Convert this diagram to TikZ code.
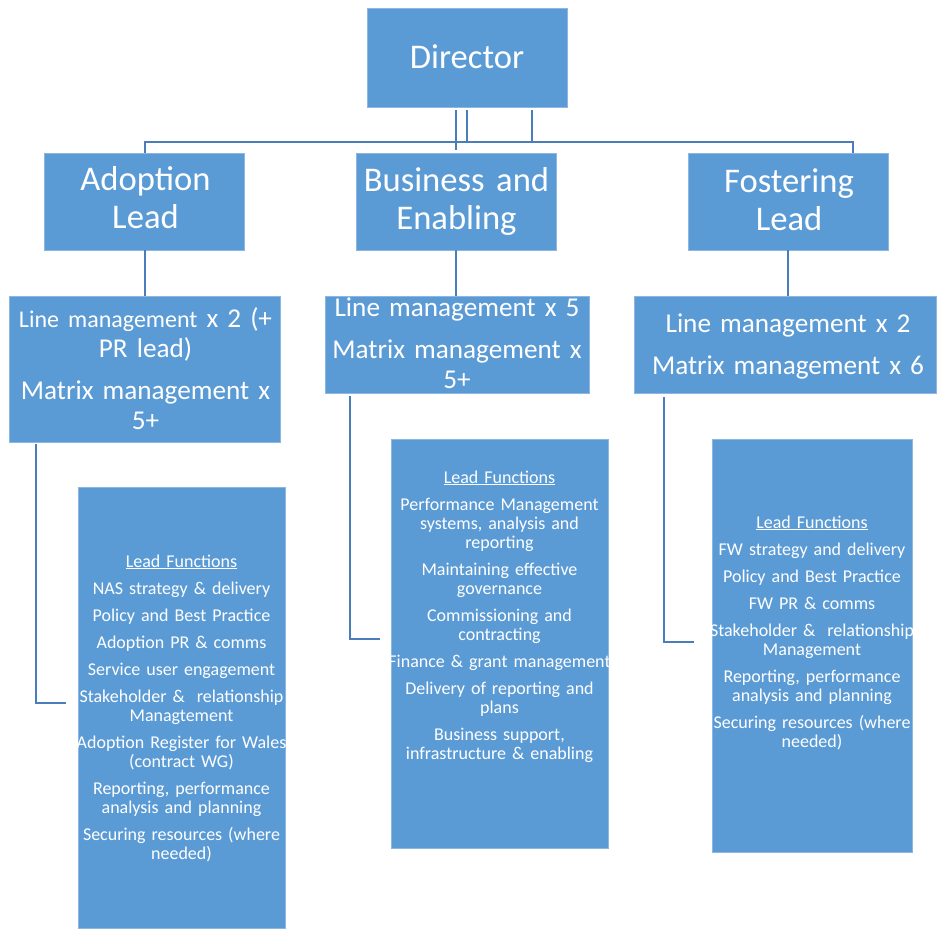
\documentclass[tikz,border=0pt]{standalone}
\usepackage{fontspec}
\setmainfont{Carlito}
\usetikzlibrary{calc}
\definecolor{boxblue}{HTML}{5B9BD5}
\definecolor{boxedge}{HTML}{8DB6E2}
\definecolor{linkblue}{HTML}{4A7EBB}
\begin{document}
\begin{tikzpicture}[x=1pt,y=-1pt,
  box/.style={fill=boxblue, draw=boxedge, line width=0.6pt, inner sep=0pt},
  conn/.style={draw=linkblue, line width=1.6pt},
  txt/.style={text=white, align=center, inner sep=0pt, anchor=base, text width=320pt},
  ttl/.style={txt, font=\fontsize{34.6}{38}\selectfont},
  mgt/.style={txt, font=\fontsize{27.2}{30}\selectfont},
  fun/.style={txt, font=\fontsize{18}{19}\selectfont}]
\useasboundingbox (0,0) rectangle (937,929);
% boxes
\node[box, minimum width=200pt, minimum height=99pt] (dir) at (467,57.5) {};
\node[box, minimum width=200pt, minimum height=97pt] (ad) at (144.5,201.5) {};
\node[box, minimum width=200pt, minimum height=97pt] (be) at (456.5,201.5) {};
\node[box, minimum width=200pt, minimum height=97pt] (fo) at (788,201.5) {};
\node[box, minimum width=271pt, minimum height=146pt] (adm) at (144.5,369) {};
\node[box, minimum width=264pt, minimum height=97pt] (bem) at (457,344.5) {};
\node[box, minimum width=302pt, minimum height=97pt] (fom) at (785,344.5) {};
\node[box, minimum width=207pt, minimum height=441pt] (adf) at (181.5,707.5) {};
\node[box, minimum width=217pt, minimum height=409pt] (bef) at (499.5,643.5) {};
\node[box, minimum width=200pt, minimum height=413pt] (fof) at (812,645.5) {};
% texts
\node[ttl] (dirt) at (467,68) {Director};
\node[ttl] (adt) at (145.5,190) {Adoption\\Lead};
\node[ttl] (bet) at (456.5,191) {Business and\\Enabling};
\node[ttl] (fot) at (789,192) {Fostering\\Lead};
\node[mgt] (admt) at (145.5,327) {{\fontsize{24}{30}\selectfont Line management} x 2 (+\\PR lead)\\[12pt]Matrix management x\\5+};
\node[mgt] (bemt) at (457,316) {Line management x 5\\[12pt]Matrix management x\\5+};
\node[mgt] (fomt) at (788,332) {Line management x 2\\[12pt]Matrix management x 6};
\node[fun] (adft) at (181.5,567) {\underline{Lead Functions}\\[8pt]
NAS strategy \& delivery\\[8pt]
Policy and Best Practice\\[8pt]
Adoption PR \& comms\\[8pt]
Service user engagement\\[8pt]
Stakeholder \&\ \ relationship\\Managtement\\[8pt]
Adoption Register for Wales\\(contract WG)\\[8pt]
Reporting, performance\\analysis and planning\\[8pt]
Securing resources (where\\needed)};
\node[fun] (beft) at (499.5,483) {\underline{Lead Functions}\\[8pt]
Performance Management\\systems, analysis and\\reporting\\[8pt]
Maintaining effective\\governance\\[8pt]
Commissioning and\\contracting\\[8pt]
Finance \& grant management\\[8pt]
Delivery of reporting and\\plans\\[8pt]
Business support,\\infrastructure \& enabling};
\node[fun] (foft) at (812,528) {\underline{Lead Functions}\\[8pt]
FW strategy and delivery\\[8pt]
Policy and Best Practice\\[8pt]
FW PR \& comms\\[8pt]
Stakeholder \&\ \ relationship\\Management\\[8pt]
Reporting, performance\\analysis and planning\\[8pt]
Securing resources (where\\needed)};
% connectors
\coordinate (busL) at (145,142);
\coordinate (busR) at (853,142);
\draw[conn] (ad.north -| busL) -- (busL) -- (busR) -- (busR |- fo.north);
\draw[conn] ([xshift=-11pt,yshift=-3pt]dir.south) -- ([xshift=-11pt,yshift=3pt]dir.south |- be.north);
\draw[conn] ([yshift=-3pt]dir.south) -- (dir.south |- busL);
\draw[conn] ([xshift=65pt,yshift=-3pt]dir.south) -- ([xshift=65pt]dir.south |- busL);
\draw[conn] (ad.south -| busL) -- (busL |- adm.north);
\draw[conn] ([xshift=-0.5pt]be.south) -- ([xshift=-0.5pt]be.south |- bem.north);
\draw[conn] (fo.south) -- (fo.south |- fom.north);
\draw[conn] ([xshift=27pt,yshift=-2pt]adm.south west) |- ([xshift=-12pt,yshift=4.5pt]adf.west);
\draw[conn] ([xshift=25pt,yshift=-3pt]bem.south west) |- ([xshift=-11pt,yshift=4.5pt]bef.west);
\draw[conn] ([xshift=30pt,yshift=-4pt]fom.south west) |- ([xshift=-18pt,yshift=3.5pt]fof.west);
\end{tikzpicture}
\end{document}
